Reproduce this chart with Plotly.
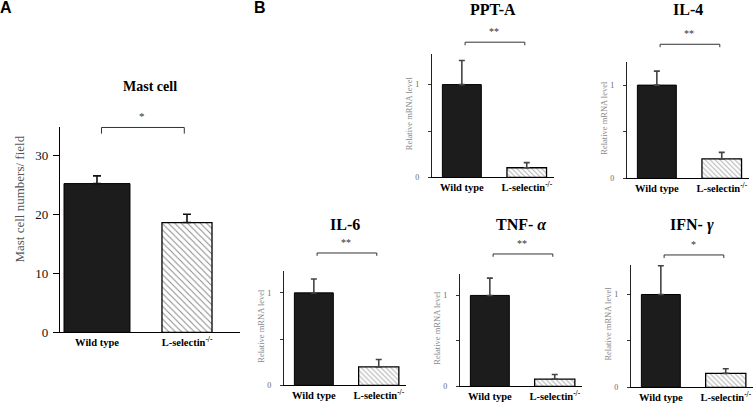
import plotly.graph_objects as go

# ---------------- data ----------------
groups = ["Wild type", "L-selectin<sup>-/-</sup>"]

mast_values = [25.2, 18.6]
mast_errors = [1.3, 1.4]

ppta_values = [1.0, 0.105]
ppta_errors = [0.26, 0.055]

il4_values = [1.0, 0.21]
il4_errors = [0.15, 0.07]

il6_values = [1.0, 0.20]
il6_errors = [0.15, 0.08]

tnf_values = [1.0, 0.08]
tnf_errors = [0.19, 0.05]

ifn_values = [1.0, 0.15]
ifn_errors = [0.31, 0.05]

panel_titles = ["Mast cell", "PPT-A", "IL-4", "IL-6", "TNF- <i>α</i>", "IFN- <i>γ</i>"]
significance = ["*", "**", "**", "**", "**", "*"]
mast_ticks = [0, 10, 20, 30]
mrna_ticks = [0, 1]
mrna_minor_ticks = [0.5]

# ---------------- layout helpers ----------------
W, H = 753, 413
SERIF = "Liberation Serif, Times New Roman, serif"
SANS = "Liberation Sans, Arial, sans-serif"


def py(px):
    return 1 - px / H


def pxx(px):
    return px / W


fig = go.Figure()

panels = [
    dict(v=mast_values, e=mast_errors, x0=60, x1=240, zero=339, top=130, ymax=34.7,
         xr=[-0.411, 1.589], widths=[0.733, 0.556], br=1.0, pat=4.5, ew=4, mast=True),
    dict(v=ppta_values, e=ppta_errors, x0=432, x1=554, zero=181, top=55, ymax=1.33,
         xr=[-0.46, 1.42], widths=[0.6, 0.61], br=1.095, pat=3.5, ew=3),
    dict(v=il4_values, e=il4_errors, x0=627, x1=749, zero=182, top=63, ymax=1.25,
         xr=[-0.46, 1.42], widths=[0.6, 0.61], br=1.15, pat=3.5, ew=3),
    dict(v=il6_values, e=il6_errors, x0=284, x1=406, zero=393, top=276, ymax=1.24,
         xr=[-0.46, 1.42], widths=[0.6, 0.62], br=1.154, pat=3.5, ew=3),
    dict(v=tnf_values, e=tnf_errors, x0=460, x1=582, zero=394, top=279, ymax=1.24,
         xr=[-0.46, 1.42], widths=[0.6, 0.62], br=1.174, pat=3.5, ew=3),
    dict(v=ifn_values, e=ifn_errors, x0=631, x1=753, zero=395, top=270, ymax=1.32,
         xr=[-0.46, 1.42], widths=[0.6, 0.62], br=1.08, pat=3.5, ew=3),
]

annotations = []
shapes = []
layout_axes = {}

for i, p in enumerate(panels):
    n = i + 1
    xa = "x" if n == 1 else f"x{n}"
    ya = "y" if n == 1 else f"y{n}"
    xkey = "xaxis" if n == 1 else f"xaxis{n}"
    ykey = "yaxis" if n == 1 else f"yaxis{n}"
    mast = p.get("mast", False)
    errc = "#111" if mast else "#444"

    # Wild type (solid dark)
    fig.add_trace(go.Bar(
        x=[0], y=[p["v"][0]], width=[p["widths"][0]],
        marker=dict(color="#1c1c1c", line=dict(color="#000", width=1)),
        error_y=dict(type="data", array=[p["e"][0]], arrayminus=[0], symmetric=False,
                     color=errc, thickness=1.6, width=p["ew"]),
        xaxis=xa, yaxis=ya, showlegend=False,
    ))
    # L-selectin (hatched)
    fig.add_trace(go.Bar(
        x=[1], y=[p["v"][1]], width=[p["widths"][1]],
        marker=dict(color="white", line=dict(color="#000", width=1.3),
                    pattern=dict(shape="\\", fgcolor="#111" if mast else "#666",
                                 bgcolor="white", size=p["pat"], solidity=0.22 if mast else 0.3)),
        error_y=dict(type="data", array=[p["e"][1]], arrayminus=[0], symmetric=False,
                     color=errc, thickness=1.6, width=p["ew"]),
        xaxis=xa, yaxis=ya, showlegend=False,
    ))

    layout_axes[xkey] = dict(
        domain=[pxx(p["x0"]), pxx(p["x1"])], range=p["xr"], anchor=ya,
        tickvals=[0, 1], ticktext=groups, ticks="", showgrid=False, zeroline=False,
        showline=True, linecolor="#000", linewidth=1.3,
        tickfont=dict(family=SERIF, size=10.5, color="#000", weight="bold"),
        fixedrange=True,
    )
    if mast:
        layout_axes[ykey] = dict(
            domain=[py(p["zero"]), py(p["top"])], range=[0, p["ymax"]], anchor=xa,
            tickvals=mast_ticks, ticks="outside", ticklen=6, tickwidth=1.2, tickcolor="#000",
            showgrid=False, zeroline=False, showline=True, linecolor="#000", linewidth=1.3,
            tickfont=dict(family=SERIF, size=13, color="#111"), ticklabelstandoff=2,
        )
    else:
        layout_axes[ykey] = dict(
            domain=[py(p["zero"]), py(p["top"])], range=[0, p["ymax"]], anchor=xa,
            tickvals=mrna_ticks, ticks="outside", ticklen=3,
            tickwidth=1, tickcolor="#333",
            minor=dict(tickvals=mrna_minor_ticks, ticks="outside", ticklen=3,
                       tickwidth=1, tickcolor="#333", showgrid=False),
            showgrid=False, zeroline=False, showline=True, linecolor="#222", linewidth=1.2,
            tickfont=dict(family=SERIF, size=8, color="#666"), ticklabelstandoff=7,
        )

    # significance bracket
    ydom = f"{ya} domain"
    drop = 0.03 if mast else 0.025
    shapes.append(dict(
        type="path", xref=xa, yref=ydom,
        path=f"M 0.05,{p['br'] - drop} L 0.05,{p['br']} L 0.97,{p['br']} L 0.97,{p['br'] - drop}",
        line=dict(color="#333", width=1),
    ))
    annotations.append(dict(
        x=0.5, y=p["br"], xref=xa, yref=ydom, text=significance[i], showarrow=False,
        yanchor="bottom", yshift=3, font=dict(family=SERIF, size=11 if mast else 10, color="#333"),
    ))

    # panel title
    if mast:
        annotations.append(dict(
            x=0.5, y=py(88), xref=f"{xa} domain", yref="paper", yanchor="middle",
            text=f"<b>{panel_titles[i]}</b>",
            showarrow=False, font=dict(family=SERIF, size=14, color="#000"),
        ))
        annotations.append(dict(
            x=pxx(10), y=py(203), xref="paper", yref="paper", yanchor="middle",
            text="Mast cell numbers/ field",
            textangle=-90, showarrow=False, font=dict(family=SERIF, size=13, color="#555"),
        ))
    else:
        ty = 10 if p["zero"] < 200 else 229
        annotations.append(dict(
            x=0.5, y=py(ty), xref=f"{xa} domain", yref="paper", yanchor="middle",
            text=f"<b>{panel_titles[i]}</b>",
            showarrow=False, font=dict(family=SERIF, size=16, color="#000"),
        ))
        annotations.append(dict(
            x=0, y=0.52, xref=f"{xa} domain", yref=ydom, xshift=-30, yanchor="middle",
            text="Relative mRNA level", textangle=-90, showarrow=False,
            font=dict(family=SERIF, size=8.5, color="#888"),
        ))

# panel letters
annotations.append(dict(x=pxx(6), y=py(8), xref="paper", yref="paper", text="<b>A</b>",
                        xanchor="center", yanchor="middle",
                        showarrow=False, font=dict(family=SANS, size=16, color="#000")))
annotations.append(dict(x=pxx(260), y=py(8), xref="paper", yref="paper", text="<b>B</b>",
                        xanchor="center", yanchor="middle",
                        showarrow=False, font=dict(family=SANS, size=16, color="#000")))

fig.update_layout(
    width=W, height=H, margin=dict(l=0, r=0, t=0, b=0),
    paper_bgcolor="white", plot_bgcolor="white",
    barmode="overlay", annotations=annotations, shapes=shapes,
    **layout_axes,
)

page_css = "margin:0;padding:0;overflow:hidden;width:753px;height:413px;"
fig.write_html(
    "out.html", config={"displayModeBar": False},
    post_script=(
        f"document.documentElement.style.cssText='{page_css}';"
        f"document.body.style.cssText='{page_css}';"
    ),
)
